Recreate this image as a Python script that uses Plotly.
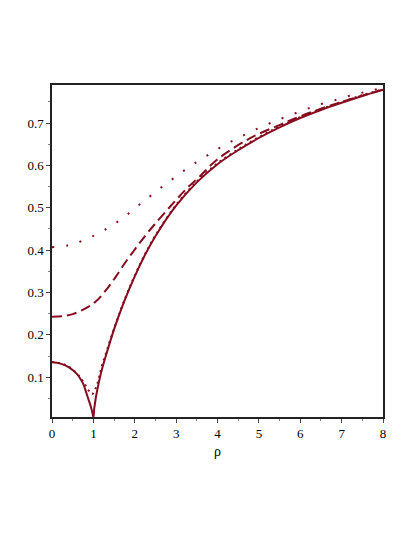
import plotly.graph_objects as go

# solid curve (cusp at rho = 1)
rho_solid = [0, 0.2, 0.4, 0.6, 0.7, 0.76, 0.82, 0.88, 0.94, 0.98, 1.0, 1.02, 1.06, 1.12, 1.16,
             1.2, 1.3, 1.5, 1.75, 2.0, 2.25, 2.5, 3.0, 3.5, 4.0, 4.5, 5.0, 5.5, 6.0, 6.5, 7.0,
             7.5, 8.0]
v_solid = [0.135, 0.132, 0.124, 0.108, 0.094, 0.083, 0.066, 0.048, 0.030, 0.014, 0.006, 0.025,
           0.052, 0.082, 0.100, 0.116, 0.150, 0.213, 0.280, 0.338, 0.389, 0.433, 0.505, 0.560,
           0.603, 0.636, 0.665, 0.690, 0.712, 0.731, 0.748, 0.764, 0.779]

# dense dotted curve hugging the solid one, smooth near rho = 1
rho_dot_low = [0, 0.2, 0.4, 0.6, 0.7, 0.77, 0.87, 0.97, 1.06, 1.12, 1.17, 1.22, 1.3, 1.5, 1.75,
               2.0, 2.25, 2.5, 3.0, 3.5, 4.0, 4.5, 5.0, 5.5, 6.0, 6.5, 7.0, 7.5, 8.0]
v_dot_low = [0.136, 0.133, 0.125, 0.109, 0.097, 0.087, 0.071, 0.060, 0.075, 0.093, 0.113, 0.132,
             0.155, 0.215, 0.282, 0.340, 0.391, 0.435, 0.507, 0.562, 0.605, 0.638, 0.667, 0.692,
             0.714, 0.733, 0.750, 0.766, 0.780]

# dashed curve
rho_dash = [0, 0.25, 0.5, 0.8, 1.05, 1.3, 1.54, 1.78, 2.02, 2.26, 2.5, 2.93, 3.25, 3.57, 3.98,
            4.78, 5.51, 6.0, 6.5, 7.0, 7.5, 8.0]
v_dash = [0.2425, 0.244, 0.249, 0.262, 0.278, 0.305, 0.337, 0.372, 0.404, 0.435, 0.463, 0.511,
          0.545, 0.574, 0.613, 0.664, 0.696, 0.716, 0.734, 0.750, 0.765, 0.779]

# sparse dotted curve on top
rho_dot_high = [0, 0.42, 0.78, 1.13, 1.46, 1.78, 2.08, 2.38, 2.69, 3.0, 3.31, 3.63, 3.96, 4.30,
                4.65, 4.99, 5.35, 5.71, 6.07, 6.43, 6.80, 7.17, 7.55, 7.94]
v_dot_high = [0.407, 0.412, 0.424, 0.440, 0.459, 0.481, 0.505, 0.528, 0.552, 0.574, 0.596, 0.616,
              0.636, 0.655, 0.672, 0.688, 0.703, 0.717, 0.730, 0.743, 0.753, 0.764, 0.773, 0.782]

RED = "#850d1f"
FONT = "Times New Roman"

fig = go.Figure()
fig.add_trace(go.Scatter(x=rho_dot_high, y=v_dot_high, mode="lines",
                         line=dict(color=RED, width=2, dash="2px,12px", shape="spline")))
fig.add_trace(go.Scatter(x=rho_dash, y=v_dash, mode="lines",
                         line=dict(color=RED, width=2, dash="10px,5px", shape="spline")))
fig.add_trace(go.Scatter(x=rho_dot_low, y=v_dot_low, mode="lines",
                         line=dict(color=RED, width=2, dash="2px,4px", shape="spline")))
fig.add_trace(go.Scatter(x=rho_solid, y=v_solid, mode="lines",
                         line=dict(color=RED, width=2, shape="spline")))

axis_common = dict(
    showline=True, mirror=True, linecolor="#222", linewidth=1.5,
    showgrid=False, zeroline=False, ticks="outside", ticklen=4, tickcolor="#444",
    tickfont=dict(family=FONT, size=13, color="black"), automargin=False,
)

fig.update_xaxes(range=[0, 8], dtick=1, tick0=0,
                 minor=dict(ticks="outside", ticklen=2, dtick=0.5, tickcolor="#888"),
                 title=dict(text="ρ", font=dict(family=FONT, size=14, color="black"), standoff=6),
                 **axis_common)
fig.update_yaxes(range=[0.006, 0.790], dtick=0.1, tick0=0,
                 minor=dict(ticks="outside", ticklen=2, dtick=0.05, tickcolor="#888"),
                 **axis_common)

fig.update_layout(
    width=415, height=537,
    font=dict(family=FONT, size=13, color="black"),
    margin=dict(l=44, r=40, t=77, b=128),
    plot_bgcolor="white", paper_bgcolor="white",
    showlegend=False,
)

fig.write_html("out.html")
